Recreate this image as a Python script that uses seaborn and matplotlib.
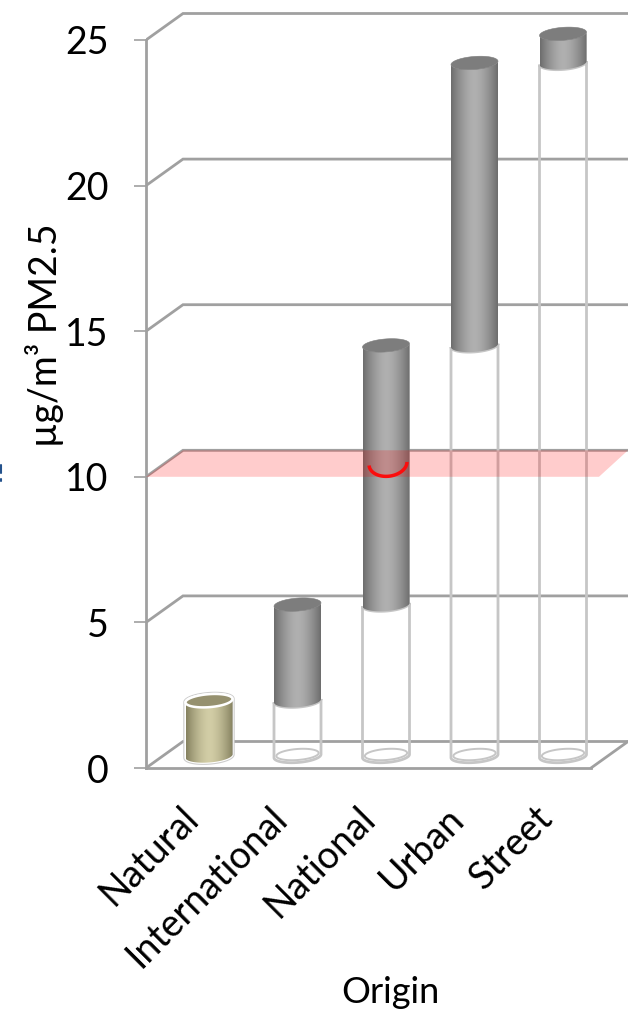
import numpy as np
import matplotlib
matplotlib.use("Agg")
import matplotlib.pyplot as plt
from matplotlib.colors import to_rgb
from matplotlib.lines import Line2D
from matplotlib.patches import Polygon
from matplotlib.transforms import ScaledTranslation
import seaborn as sns

# data
origins = ["Natural", "International", "National", "Urban", "Street"]
segments = [1.9, 3.3, 8.9, 9.7, 1.0]
yticks = [0, 5, 10, 15, 20, 25]
limit = 10

sns.set_theme(style="white")
plt.rcParams["font.family"] = ["Lato", "DejaVu Sans"]

W, H = 628, 1013
fig = plt.figure(figsize=(W / 100, H / 100), dpi=100)
PXY = 29.12
PXX = 88.5
ax = fig.add_axes([146 / W, (H - 768) / H, (W - 146) / W, 768 / H])
xl, xr = -63 / PXX, (W - 209) / PXX
yt = 768 / PXY
ax.set_xlim(xl, xr)
ax.set_ylim(0, yt)

dx, dy = 37 / PXX, 26.5 / PXY     # depth of the 3-D box
by = 12 / PXY                     # base lift of the cylinders
bw, eh = 47 / PXX, 13 / PXY       # bar width and ellipse height
tilt = 1.7 / PXY                  # rise of an ellipse's right end
GR = "#a0a0a0"
HL = "#c6c6c6"

starts = np.concatenate([[0], np.cumsum(segments)[:-1]])
tops = starts + np.array(segments)


def ell(x, y, a=0.0, b=2 * np.pi, w=bw, h=eh, n=80):
    t = np.linspace(a, b, n)
    return np.c_[x + w / 2 * np.cos(t),
                 y + h / 2 * np.sin(t) + tilt * np.cos(t) * w / bw]


def body(x, y0, y1):
    return np.r_[ell(x, y0, np.pi, 2 * np.pi), ell(x, y1, 2 * np.pi, np.pi)]


# back wall, side wall and floor
for v in yticks:
    ax.plot([xl, xl + dx, xr], [v, v + dy, v + dy], color=GR, lw=2.0, zorder=1,
            solid_joinstyle="miter")
ax.plot([xr - dx, xr], [0, dy], color=GR, lw=2.0, zorder=1, clip_on=False)

# hollow cylinders (total below each segment), through seaborn bars
sns.barplot(x=origins, y=starts, ax=ax, bottom=by, color="white", width=bw,
            edgecolor="none", saturation=1, zorder=0.5, alpha=0)
for i in range(1, len(origins)):
    x = float(i)
    y0, y1 = by, by + starts[i]
    ax.add_patch(Polygon(body(x, y0, y1), fc="none", ec=HL, lw=2.0, zorder=2.1))
    ax.add_patch(Polygon(ell(x, y0 + 1.5 / PXY, w=bw * 0.9, h=eh * 0.85),
                         fc="none", ec=HL, lw=1.4, zorder=2.2))

# filled segments
sns.barplot(x=origins, y=segments, ax=ax, bottom=starts + by, color="#a9a9a9",
            width=bw, edgecolor="none", saturation=1, zorder=3)
bars = [p for p in ax.patches if p.get_zorder() == 3]
for i, p in enumerate(bars):
    x = p.get_x() + p.get_width() / 2
    y0, y1 = by + starts[i], by + tops[i]
    nat = i == 0
    edge, mid, cap = (("#85815f", "#d2cda6", "#96916f") if nat
                      else ("#6d6d6d", "#b0b0b0", "#7d7d7d"))
    if nat:
        whole = np.r_[ell(x, y0, np.pi, 2 * np.pi), ell(x, y1, 0, np.pi)]
        ax.add_patch(Polygon(whole, fc="white", ec="#cdcdcd", lw=3.2, zorder=2.8))
        ax.add_patch(Polygon(whole, fc="white", ec="white", lw=1.6, zorder=2.9))
    c0, c1 = np.array(to_rgb(edge)), np.array(to_rgb(mid))
    s = np.abs(np.linspace(-1, 1, 128)) ** 1.6
    grad = (c1[None, :] * (1 - s[:, None]) + c0[None, :] * s[:, None])[None, :, :]
    im = ax.imshow(grad, extent=(x - bw / 2, x + bw / 2, y0 - eh, y1 + eh), aspect="auto",
                   zorder=3.1, interpolation="bilinear")
    clip = Polygon(body(x, y0, y1), transform=ax.transData)
    im.set_clip_path(clip)
    p.set_clip_path(clip)
    ax.add_patch(Polygon(ell(x, y1), fc=cap, ec="white" if nat else cap,
                         lw=1.8 if nat else 0.4, zorder=3.2))
ax.set_xlim(xl, xr)
ax.set_ylim(0, yt)

# limit band and arc on the National bar
ax.add_patch(Polygon([(xl, limit), (xl + dx, limit + dy), (xr, limit + dy), (xr - dx + 0.09, limit)],
                     fc="#ff0000", alpha=0.2, ec="none", zorder=4))
arc = ell(2 + 2 / PXX, limit + 13.5 / PXY, 1.02 * np.pi, 2.0 * np.pi, w=38 / PXX, h=26 / PXY)
ax.plot(arc[:, 0], arc[:, 1], color="#fb0d0d", lw=2.5, zorder=5, solid_capstyle="butt")

# axes
for s in ["top", "right"]:
    ax.spines[s].set_visible(False)
for s in ["left", "bottom"]:
    ax.spines[s].set_color(GR)
    ax.spines[s].set_linewidth(2.0)
ax.spines["left"].set_bounds(0, 25)
ax.spines["bottom"].set_bounds(xl, xr - dx)
ax.set_yticks(yticks)
ax.tick_params(axis="y", left=True, length=9, width=1.2, color=GR, labelsize=27,
               labelcolor="black", pad=18)
ax.tick_params(axis="x", bottom=False, labelsize=27, labelcolor="black", pad=17)
ax.set_xticks(range(len(origins)))
ax.set_xticklabels(origins, rotation=45, ha="right", va="top", rotation_mode="anchor")
off = ScaledTranslation(-29 / 100, 0, fig.dpi_scale_trans)
for t in ax.get_xticklabels():
    t.set_transform(t.get_transform() + off)
ax.set_xlabel("")
ax.set_ylabel("")
fig.text(390 / W, 1 - 992 / H, "Origin", ha="center", va="center", fontsize=26, color="black")
fig.text(45 / W, 1 - 335 / H, "µg/m³ PM2.5", ha="center", va="center", rotation=90,
         fontsize=27, color="black")

# clipped fragment of a dark blue mark on the left edge
for y0, y1 in [(465, 473), (479, 481)]:
    fig.add_artist(Line2D([0.5 / W, 0.5 / W], [1 - y0 / H, 1 - y1 / H], color="#24528c", lw=1.5))

fig.savefig("out.png", dpi=100)
